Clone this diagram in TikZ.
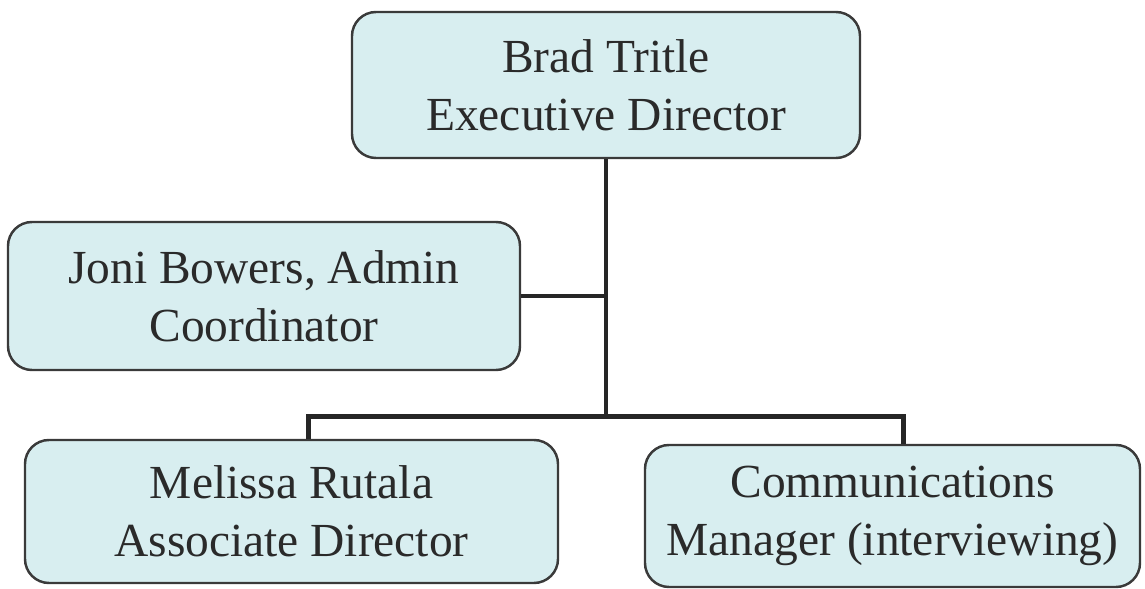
\documentclass[tikz,border=0pt]{standalone}
\usepackage{fontspec}
\setmainfont{Liberation Serif}
\usetikzlibrary{calc, positioning}

\definecolor{boxfill}{HTML}{D8EEF0}
\definecolor{boxline}{HTML}{3A3A3A}
\definecolor{txt}{HTML}{2A2A2A}

\tikzset{
  person/.style={draw=boxline, line width=0.7pt, fill=boxfill, rounded corners=0.24cm,
    align=center, text=txt, inner sep=0pt,
    font=\fontsize{13.5}{16.5}\selectfont},
  link/.style={line width=1.4pt, color=black!85}
}

\begin{document}
\begin{tikzpicture}

\useasboundingbox (0,0) rectangle (11.45,5.89); % page frame

\node[person, minimum width=5.08cm, minimum height=1.46cm] (exec) at (6.06,5.04) {Brad Tritle\\Executive Director};
\node[person, minimum width=5.12cm, minimum height=1.48cm] (admin) at (2.64,2.93) {Joni Bowers, Admin\\Coordinator};
\node[person, minimum width=5.33cm, minimum height=1.43cm] (assoc) at (2.915,0.775) {Melissa Rutala\\Associate Director};
\node[person, minimum width=4.95cm, minimum height=1.42cm] (comms) at (8.925,0.73) {Communications\\Manager (interviewing)};

% trunk and branches
\draw[link] (exec.south) -- ++(0,-2.57) coordinate (bar);
\draw[link] (admin.east) -- (admin.east -| exec.south);
\draw[link] ([xshift=0.17cm]assoc.north) |- (bar) -| ([xshift=0.11cm]comms.north);

\end{tikzpicture}
\end{document}
